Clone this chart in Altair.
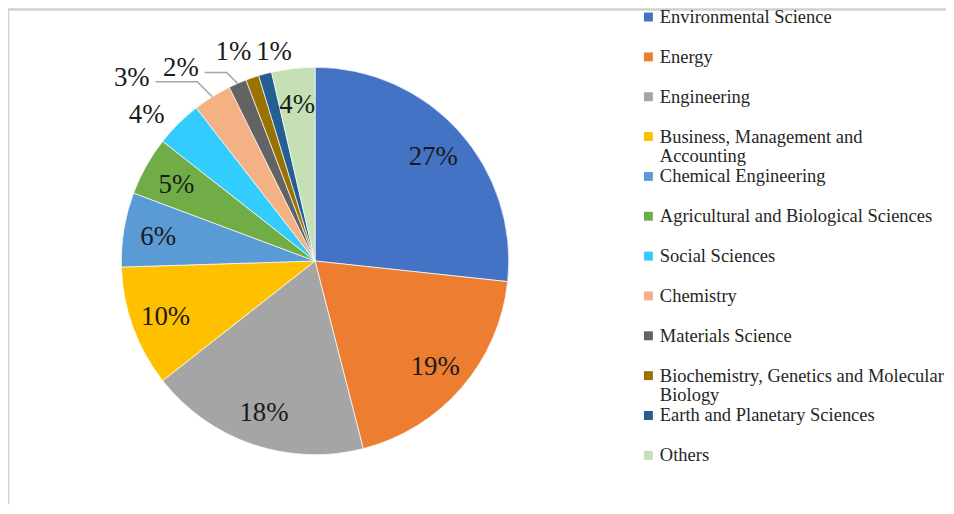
import math
import altair as alt
import pandas as pd

# ---------------- data ----------------
categories = [
    "Environmental Science",
    "Energy",
    "Engineering",
    "Business, Management and Accounting",
    "Chemical Engineering",
    "Agricultural and Biological Sciences",
    "Social Sciences",
    "Chemistry",
    "Materials Science",
    "Biochemistry, Genetics and Molecular Biology",
    "Earth and Planetary Sciences",
    "Others",
]
shares = [26.7, 19.3, 18.4, 10.1, 6.2, 4.9, 3.9, 3.2, 1.5, 1.1, 1.1, 3.6]

# ---------------- styles / layout ----------------
colors = ["#4472C4", "#ED7D31", "#A5A5A5", "#FFC000", "#5B9BD5", "#70AD47",
          "#33CCFF", "#F4B183", "#636363", "#997300", "#255E91", "#C5E0B4"]
legend_wrap = {
    "Business, Management and Accounting": ["Business, Management and", "Accounting"],
    "Biochemistry, Genetics and Molecular Biology": ["Biochemistry, Genetics and Molecular", "Biology"],
}
# labels placed outside the pie: nudge (px) from the slice's outer edge
outside_nudge = {
    "Social Sciences": (-32, 9),
    "Chemistry": (-81, 19),
    "Materials Science": (-57, 15),
    "Biochemistry, Genetics and Molecular Biology": (-19, 26),
    "Earth and Planetary Sciences": (9, 22),
}
with_leader = {"Chemistry", "Materials Science"}

W, H = 944, 498          # view size
CX, CY = 309, 253        # pie centre inside view (px)
R = 195                  # pie radius
R_LABEL = 160            # inside-label radius
FONT = "Liberation Serif"

xs = alt.Scale(domain=[-CX, W - CX], nice=False, zero=False)
ys = alt.Scale(domain=[CY - H, CY], nice=False, zero=False)

# ---------------- derived tables ----------------
total = sum(shares)
pie_rows, label_rows, leader_rows = [], [], []
cum = 0.0
for i, (cat, v) in enumerate(zip(categories, shares)):
    mid = (cum + v / 2) / total * 2 * math.pi
    cum += v
    pie_rows.append({"category": cat, "share": v, "idx": i, "cx": 0, "cy": 0})
    txt = f"{round(v)}%"
    if cat in outside_nudge:
        ex, ey = R * math.sin(mid), R * math.cos(mid)
        dx, dy = outside_nudge[cat]
        lx, ly = ex + dx, ey + dy
        label_rows.append({"x": lx, "y": ly, "t": txt})
        if cat in with_leader:
            yl = ly - 4
            elbow_x = ex - (yl - ey)
            pts = [(ex, ey), (elbow_x, yl), (lx + 24, yl)]
            for k, (px, py) in enumerate(pts):
                leader_rows.append({"cat": cat, "k": k, "x": px, "y": py})
    else:
        label_rows.append({"x": R_LABEL * math.sin(mid),
                           "y": R_LABEL * math.cos(mid) - 2, "t": txt})

legend_sym, legend_txt = [], []
LEG_TOP, LEG_STEP, LINE_H = 245.5, 40.1, 20
LEG_SX, LEG_TX = 335.5, 347
for i, cat in enumerate(categories):
    yy = LEG_TOP - i * LEG_STEP
    legend_sym.append({"category": cat, "x": LEG_SX, "y": yy})
    for j, line in enumerate(legend_wrap.get(cat, [cat])):
        legend_txt.append({"x": LEG_TX, "y": yy - j * LINE_H, "t": line})

pie_df = pd.DataFrame(pie_rows)
lab_df = pd.DataFrame(label_rows)
lead_df = pd.DataFrame(leader_rows)
lsym_df = pd.DataFrame(legend_sym)
ltxt_df = pd.DataFrame(legend_txt)

color_scale = alt.Scale(domain=categories, range=colors)

pie = alt.Chart(pie_df).mark_arc(radius=R, stroke="white", strokeWidth=0.7).encode(
    theta=alt.Theta("share:Q", stack=True),
    order=alt.Order("idx:Q"),
    color=alt.Color("category:N", scale=color_scale, legend=None),
    x=alt.X("cx:Q", scale=xs, axis=None),
    y=alt.Y("cy:Q", scale=ys, axis=None),
)

leaders = alt.Chart(lead_df).mark_line(color="#A6A6A6", strokeWidth=1.5).encode(
    x=alt.X("x:Q", scale=xs, axis=None),
    y=alt.Y("y:Q", scale=ys, axis=None),
    detail="cat:N",
    order="k:Q",
)

labels = alt.Chart(lab_df).mark_text(
    font=FONT, fontSize=27, color="#1a1a1a", align="center", baseline="middle"
).encode(
    x=alt.X("x:Q", scale=xs, axis=None),
    y=alt.Y("y:Q", scale=ys, axis=None),
    text="t:N",
)

leg_sym = alt.Chart(lsym_df).mark_square(size=81, opacity=1).encode(
    x=alt.X("x:Q", scale=xs, axis=None),
    y=alt.Y("y:Q", scale=ys, axis=None),
    color=alt.Color("category:N", scale=color_scale, legend=None),
)

leg_txt = alt.Chart(ltxt_df).mark_text(
    font=FONT, fontSize=18.6, color="#262626", align="left", baseline="middle"
).encode(
    x=alt.X("x:Q", scale=xs, axis=None),
    y=alt.Y("y:Q", scale=ys, axis=None),
    text="t:N",
)

frame_top = alt.Chart(pd.DataFrame({"a": [0]})).mark_rule(
    color="#D0D0D0", strokeWidth=2.5).encode(
    x=alt.value(0), x2=alt.value(W), y=alt.value(0))
frame_left = alt.Chart(pd.DataFrame({"a": [0]})).mark_rule(
    color="#D0D0D0", strokeWidth=2.5).encode(
    x=alt.value(0), y=alt.value(0), y2=alt.value(H))

chart = alt.layer(frame_top, frame_left, pie, leaders, labels, leg_sym, leg_txt).properties(
    width=W, height=H,
    autosize=alt.AutoSizeParams(type="none"),
    padding=0,
    background="white",
).configure_view(stroke=None)

chart.save("out.html", embed_options={"renderer": "svg", "actions": False})
